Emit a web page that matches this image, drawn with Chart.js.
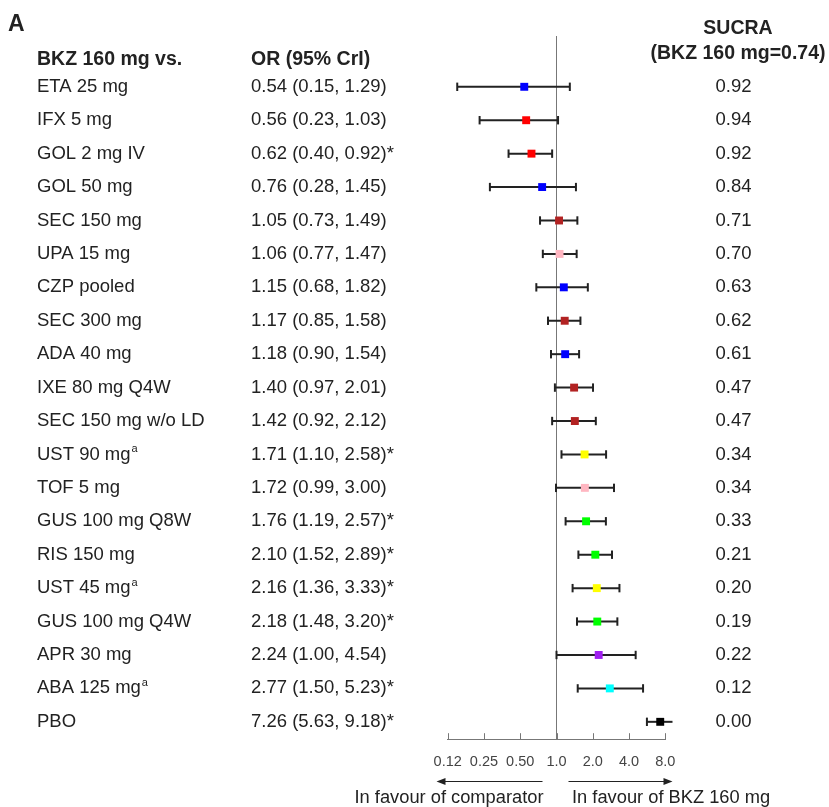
<!DOCTYPE html>
<html>
<head>
<meta charset="utf-8">
<script src="https://cdn.jsdelivr.net/npm/chart.js@4/dist/chart.umd.min.js"></script>
<style>
  html, body { margin: 0; padding: 0; background: #fff; }
  #wrap { width: 829px; height: 807px; }
</style>
</head>
<body>
<div id="wrap"><canvas id="forest" width="829" height="807"></canvas></div>
<script>
// ---------- DATA ----------
const drugs = [
  "ETA 25 mg", "IFX 5 mg", "GOL 2 mg IV", "GOL 50 mg", "SEC 150 mg",
  "UPA 15 mg", "CZP pooled", "SEC 300 mg", "ADA 40 mg", "IXE 80 mg Q4W",
  "SEC 150 mg w/o LD", "UST 90 mg", "TOF 5 mg", "GUS 100 mg Q8W", "RIS 150 mg",
  "UST 45 mg", "GUS 100 mg Q4W", "APR 30 mg", "ABA 125 mg", "PBO"
];
const footnoteA = [false, false, false, false, false, false, false, false, false, false,
                   false, true, false, false, false, true, false, false, true, false];
const orMedian = [0.54, 0.56, 0.62, 0.76, 1.05, 1.06, 1.15, 1.17, 1.18, 1.40,
                  1.42, 1.71, 1.72, 1.76, 2.10, 2.16, 2.18, 2.24, 2.77, 7.26];
const orLow    = [0.15, 0.23, 0.40, 0.28, 0.73, 0.77, 0.68, 0.85, 0.90, 0.97,
                  0.92, 1.10, 0.99, 1.19, 1.52, 1.36, 1.48, 1.00, 1.50, 5.63];
const orHigh   = [1.29, 1.03, 0.92, 1.45, 1.49, 1.47, 1.82, 1.58, 1.54, 2.01,
                  2.12, 2.58, 3.00, 2.57, 2.89, 3.33, 3.20, 4.54, 5.23, 9.18];
const significant = [false, false, true, false, false, false, false, false, false, false,
                     false, true, false, true, true, true, true, false, true, true];
const sucra = ["0.92", "0.94", "0.92", "0.84", "0.71", "0.70", "0.63", "0.62", "0.61", "0.47",
               "0.47", "0.34", "0.34", "0.33", "0.21", "0.20", "0.19", "0.22", "0.12", "0.00"];
const pointColors = ["#0000ff", "#ff0000", "#ff0000", "#0000ff", "#b22222",
                     "#ffb6c1", "#0000ff", "#b22222", "#0000ff", "#b22222",
                     "#b22222", "#ffff00", "#ffb6c1", "#00ff00", "#00ff00",
                     "#ffff00", "#00ff00", "#a020f0", "#00ffff", "#000000"];
const tickValues = [0.125, 0.25, 0.5, 1, 2, 4, 8];
const tickLabels = ["0.12", "0.25", "0.50", "1.0", "2.0", "4.0", "8.0"];

const FONT = '"Liberation Sans", Arial, sans-serif';
const INK = "#222";

// ---------- DATASETS ----------
// one whisker per row, caps drawn as rotated 'line' points
const whiskers = drugs.map((_, i) => ({
  data: [{ x: orLow[i], y: i }, { x: orHigh[i], y: i }],
  showLine: true,
  borderColor: INK,
  borderWidth: 2,
  pointStyle: "line",
  pointRotation: 90,
  pointRadius: 4.2,
  pointBorderWidth: 2,
  pointBorderColor: INK,
  clip: false,
  order: 2,
}));

const points = {
  data: orMedian.map((v, i) => ({ x: v, y: i })),
  pointStyle: "rect",
  pointRadius: 5.6,
  pointBorderWidth: 0,
  pointBackgroundColor: pointColors,
  pointBorderColor: pointColors,
  clip: false,
  order: 0,
};

const refLine = {
  data: [{ x: 1, y: -1.52 }, { x: 1, y: 19.52 }],
  showLine: true,
  borderColor: "#777",
  borderWidth: 1,
  pointRadius: 0,
  order: 3,
};

// ---------- TEXT / AXIS EXTRAS ----------
const tablePlugin = {
  id: "table",
  afterDraw(chart) {
    const { ctx, chartArea } = chart;
    const x = chart.scales.x;
    const y = chart.scales.y;
    ctx.save();
    ctx.fillStyle = INK;
    ctx.textBaseline = "middle";

    // panel letter
    ctx.font = `bold 23px ${FONT}`;
    ctx.textAlign = "left";
    ctx.fillText("A", 8, 25);

    // headers
    ctx.font = `bold 19.5px ${FONT}`;
    ctx.fillText("BKZ 160 mg vs.", 37, 60);
    ctx.fillText("OR (95% CrI)", 251, 60);
    ctx.textAlign = "center";
    ctx.fillText("SUCRA", 738, 29);
    ctx.fillText("(BKZ 160 mg=0.74)", 738, 54);

    // rows
    drugs.forEach((name, i) => {
      const py = y.getPixelForValue(i);
      ctx.font = `18.5px ${FONT}`;
      ctx.textAlign = "left";
      ctx.fillText(name, 37, py);
      if (footnoteA[i]) {
        const w = ctx.measureText(name).width;
        ctx.font = `11px ${FONT}`;
        ctx.fillText("a", 37 + w + 1, py - 5);
        ctx.font = `18.5px ${FONT}`;
      }
      const txt = `${orMedian[i].toFixed(2)} (${orLow[i].toFixed(2)}, ${orHigh[i].toFixed(2)})` +
        (significant[i] ? "*" : "");
      ctx.fillText(txt, 251, py);
      ctx.textAlign = "center";
      ctx.fillText(sucra[i], 733.5, py);
    });

    // inward tick marks on the OR axis
    ctx.strokeStyle = "#777";
    ctx.lineWidth = 1;
    x.ticks.forEach(t => {
      const px = Math.round(x.getPixelForValue(t.value)) + 0.5;
      ctx.beginPath();
      ctx.moveTo(px, chartArea.bottom);
      ctx.lineTo(px, chartArea.bottom - 6);
      ctx.stroke();
    });

    // direction arrows
    const c = x.getPixelForValue(1);
    const ay = 781.5;
    ctx.strokeStyle = INK;
    ctx.lineWidth = 1.2;
    ctx.beginPath();
    ctx.moveTo(c - 113, ay); ctx.lineTo(c - 14, ay);
    ctx.moveTo(c + 12, ay); ctx.lineTo(c + 109, ay);
    ctx.stroke();
    ctx.beginPath();
    ctx.moveTo(c - 120, ay); ctx.lineTo(c - 111, ay - 3.5); ctx.lineTo(c - 111, ay + 3.5); ctx.closePath();
    ctx.moveTo(c + 116, ay); ctx.lineTo(c + 107, ay - 3.5); ctx.lineTo(c + 107, ay + 3.5); ctx.closePath();
    ctx.fill();

    ctx.font = `18.3px ${FONT}`;
    ctx.textAlign = "right";
    ctx.fillText("In favour of comparator", c - 13, 798);
    ctx.textAlign = "left";
    ctx.fillText("In favour of BKZ 160 mg", c + 15.5, 798);
    ctx.restore();
  },
};

new Chart(document.getElementById("forest"), {
  type: "scatter",
  data: { datasets: [points, ...whiskers, refLine] },
  options: {
    responsive: false,
    animation: false,
    events: [],
    layout: { padding: { left: 447.7, right: 163.7, top: 36, bottom: 22.4 } },
    plugins: { legend: { display: false }, tooltip: { enabled: false } },
    scales: {
      x: {
        type: "logarithmic",
        min: 0.125,
        max: 8,
        afterBuildTicks: s => { s.ticks = tickValues.map(v => ({ value: v })); },
        ticks: {
          autoSkip: false,
          maxRotation: 0,
          padding: 14,
          color: "#444",
          font: { family: FONT, size: 14.5 },
          callback: (v, i) => tickLabels[i],
        },
        grid: { display: false, drawTicks: false },
        border: { display: true, color: "#777", width: 1 },
      },
      y: {
        type: "linear",
        reverse: true,
        min: -1.52,
        max: 19.52,
        display: false,
      },
    },
  },
  plugins: [tablePlugin],
});
</script>
</body>
</html>
